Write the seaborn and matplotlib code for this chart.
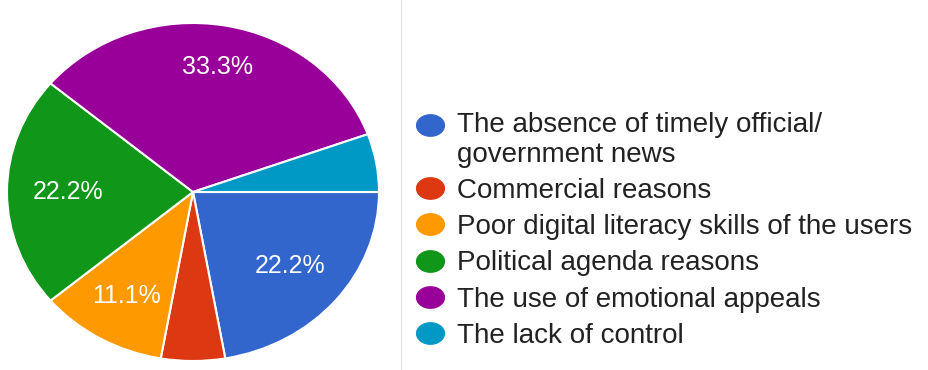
import numpy as np
import matplotlib
matplotlib.use("Agg")
import matplotlib.pyplot as plt
from matplotlib.lines import Line2D
from matplotlib.path import Path
from matplotlib.legend_handler import HandlerLine2D
import seaborn as sns

# Survey answers: why misinformation spreads
categories = [
    "The absence of timely official/\ngovernment news",
    "Commercial reasons",
    "Poor digital literacy skills of the users",
    "Political agenda reasons",
    "The use of emotional appeals",
    "The lack of control",
]
counts = [4, 1, 2, 4, 6, 1]
colors = ["#3366CC", "#DC3912", "#FF9900", "#109618", "#990099", "#0099C6"]

sns.set_theme(style="white")
plt.rcParams["font.family"] = ["Liberation Sans", "DejaVu Sans"]
palette = sns.color_palette(colors)

W, H = 929, 370
fig = plt.figure(figsize=(W / 100, H / 100), dpi=100)

# Pie area (slightly wider than tall)
ax = fig.add_axes([7 / W, 9 / H, 372 / W, 338 / H])


def pct_label(p):
    return f"{p:.1f}%" if p >= 8 else ""


wedges, texts, autotexts = ax.pie(
    counts,
    colors=palette,
    startangle=0,
    counterclock=False,
    autopct=pct_label,
    pctdistance=0.71,
    wedgeprops=dict(edgecolor="white", linewidth=1.5),
    textprops=dict(color="white", fontsize=18),
    radius=1.0,
)
# Place each percentage along its wedge's bisector
label_radius = [0.68, 0.7, 0.71, 0.67, 0.75, 0.7]
for w, txt, r in zip(wedges, autotexts, label_radius):
    mid = np.deg2rad((w.theta1 + w.theta2) / 2)
    txt.set_position((r * np.cos(mid), r * np.sin(mid)))

ax.set_aspect("auto")
ax.set_xlim(-1, 1)
ax.set_ylim(-1, 1)
ax.axis("off")

# Separator line between pie and legend
fig.add_artist(Line2D([401 / W, 401 / W], [0, 1], transform=fig.transFigure,
                      color="#e6e6e6", lw=1))

# Slightly oval legend markers
t = np.linspace(0, 2 * np.pi, 60)
oval = Path(np.column_stack([1.3 * np.cos(t), np.sin(t)]))
handles = [
    Line2D([], [], linestyle="none", marker=oval, markersize=20,
           markerfacecolor=c, markeredgecolor=c)
    for c in palette
]


class FirstLineHandler(HandlerLine2D):
    """Puts the marker next to the first line of a two-line label."""

    def create_artists(self, *args, **kwargs):
        artists = super().create_artists(*args, **kwargs)
        for a in artists:
            a.set_ydata(np.asarray(a.get_ydata(), dtype=float) + 10.5)
        return artists


leg = fig.legend(
    handles, categories,
    loc="upper left", bbox_to_anchor=(417 / W, (H - 112) / H),
    frameon=False, fontsize=20, handlelength=0.95, handletextpad=0.5,
    labelspacing=0.37, borderpad=0, borderaxespad=0,
    handler_map={handles[0]: FirstLineHandler()},
)
for txt in leg.get_texts():
    txt.set_color("#222222")
    txt.set_linespacing(1.18)

fig.savefig("out.png", dpi=100)
